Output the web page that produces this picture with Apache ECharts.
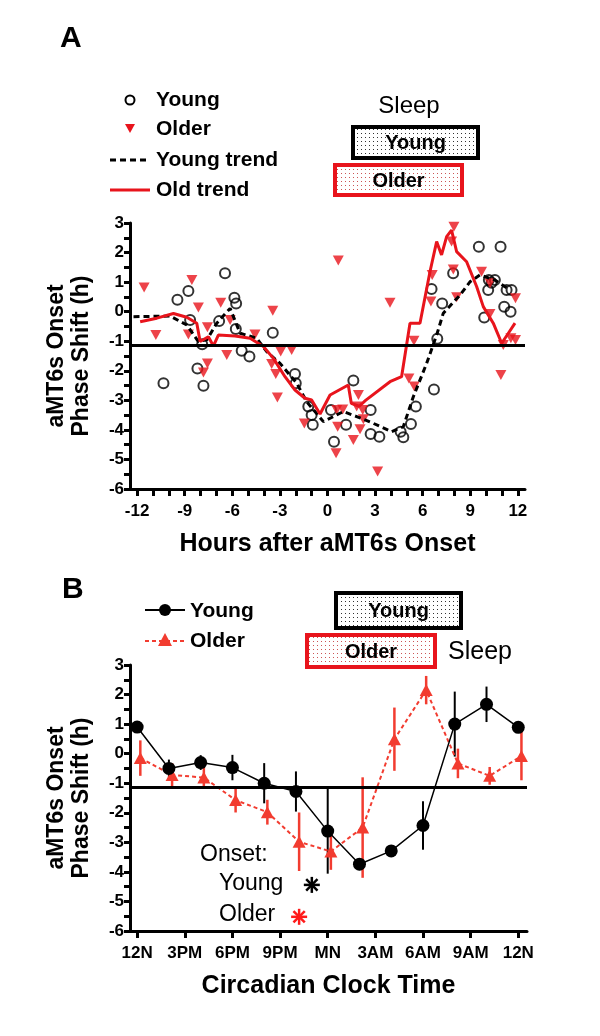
<!DOCTYPE html>
<html>
<head>
<meta charset="utf-8">
<script src="https://cdn.jsdelivr.net/npm/echarts@6/dist/echarts.min.js"></script>
<style>
html,body{margin:0;padding:0;background:#fff;}
#c{width:600px;height:1036px;}
</style>
</head>
<body>
<div id="c"></div>
<script>
// ---------------- Panel A data ----------------
const youngX = [-10.34, -9.46, -8.77, -8.66, -8.20, -7.82, -7.9, -6.83, -6.46, -5.87, -5.76, -5.78, -5.41, -4.92, -3.45, -2.05, -2.0, -1.21, -1.0, -0.93, 0.22, 0.41, 1.17, 1.63, 2.72, 2.72, 3.27, 4.61, 4.78, 5.26, 5.57, 6.71, 6.92, 7.23, 6.56, 7.92, 9.54, 10.91, 10.17, 10.55, 10.13, 10.34, 11.29, 11.6, 11.14, 11.54, 9.88];
const youngY = [-2.42, 0.40, 0.70, -0.28, -1.92, -2.51, -1.1, -0.32, 1.30, 0.47, 0.28, -0.59, -1.32, -1.52, -0.71, -2.11, -2.42, -3.21, -3.50, -3.83, -3.33, -4.40, -3.83, -2.33, -3.33, -4.14, -4.23, -4.06, -4.25, -3.80, -3.21, -2.63, -0.92, 0.28, 0.77, 1.30, 2.20, 2.20, 1.07, 1.07, 0.73, 0.98, 0.73, 0.73, 0.17, 0.0, -0.20];

const olderX = [-11.56, -10.82, -8.55, -8.14, -8.77, -7.57, -7.57, -7.82, -6.73, -6.14, -6.35, -4.57, -3.45, -2.95, -2.26, -3.52, -3.26, -3.16, -1.46, 0.68, 3.94, 0.58, 0.96, 0.64, 0.54, 1.63, 1.95, 1.84, 2.22, 2.26, 2.05, 3.16, 5.13, 5.47, 5.45, 6.60, 6.52, 7.93, 7.97, 7.82, 7.93, 8.14, 9.71, 10.24, 10.24, 11.08, 11.56, 11.85, 11.85, 10.93];
const olderY = [0.82, -0.79, 1.07, 0.14, -0.77, -0.53, -1.75, -2.06, 0.30, -0.28, -1.47, -0.77, 0.03, -1.35, -1.30, -1.77, -2.11, -2.90, -3.78, 1.73, 0.30, -3.33, -3.31, -3.89, -4.79, -4.34, -2.82, -3.21, -3.33, -3.64, -3.98, -5.41, -2.26, -2.53, -0.98, 1.24, 0.34, 3.04, 2.87, 2.37, 1.43, 0.49, 1.35, 0.96, -0.08, -1.13, -0.90, -0.96, 0.45, -2.14];

const youngTrendX = [-12.23, -9.92, -8.87, -8.14, -7.6, -6.98, -6.14, -5.51, -4.46, -3.83, -2.99, -1.94, -1.31, -0.26, 1.0, 1.84, 2.89, 4.04, 4.78, 5.41, 6.25, 6.88, 7.30, 8.35, 8.98, 9.61, 10.55, 11.5];
const youngTrendY = [-0.17, -0.15, -0.45, -1.01, -0.95, -0.39, 0.11, -0.73, -0.90, -1.35, -1.75, -2.42, -3.05, -3.72, -3.38, -3.55, -3.78, -4.06, -3.89, -2.88, -1.75, -0.79, -0.05, 0.56, 1.01, 1.24, 1.07, 0.73];

const oldTrendX = [-11.81, -10.76, -9.71, -8.87, -8.24, -8.03, -7.51, -7.19, -6.88, -5.83, -4.88, -4.04, -3.41, -2.68, -2.05, -1.42, -1.0, -0.47, 0.16, 1.31, 1.5, 2.0, 2.4, 3.94, 4.67, 5.2, 5.83, 6.46, 6.88, 7.19, 7.51, 7.82, 8.14, 8.77, 9.40, 9.82, 10.45, 10.98, 11.40, 11.82];
const oldTrendY = [-0.34, -0.22, -0.06, -0.19, -0.39, -1.01, -0.85, -1.16, -0.79, -0.82, -0.90, -1.18, -1.58, -2.2, -2.65, -2.93, -2.99, -3.46, -2.82, -2.48, -3.1, -3.2, -3.0, -2.37, -2.2, -0.39, -0.39, 1.35, 2.37, 1.92, 2.54, 2.76, 2.03, 1.69, 0.85, 0.17, -0.39, -1.07, -0.73, -0.39];

const hourTicks = [-12,-11,-10,-9,-8,-7,-6,-5,-4,-3,-2,-1,0,1,2,3,4,5,6,7,8,9,10,11,12];
const hourLabels = [-12,-9,-6,-3,0,3,6,9,12];

// ---------------- Panel B data ----------------
const clockHours = [0, 2, 4, 6, 8, 10, 12, 14, 16, 18, 20, 22, 24];
const youngMean = [0.9, -0.5, -0.3, -0.47, -1.0, -1.28, -2.62, -3.74, -3.29, -2.43, 1.0, 1.67, 0.89];
const youngErr  = [0, 0.3, 0.25, 0.43, 0.68, 0.68, 1.44, 0.2, 0.2, 0.82, 1.1, 0.6, 0];
const olderHours = [0.2, 2.2, 4.2, 6.2, 8.2, 10.2, 12.2, 14.2, 16.2, 18.2, 20.2, 22.2, 24.2];
const olderMean = [-0.15, -0.72, -0.81, -1.57, -1.98, -2.98, -3.31, -2.50, 0.49, 2.15, -0.33, -0.75, -0.08];
const olderErr  = [0.6, 0.4, 0.37, 0.42, 0.42, 0.99, 0.62, 1.7, 1.07, 0.48, 0.5, 0.3, 0.82];
const clockTicks = [0, 3, 6, 9, 12, 15, 18, 21, 24];
const clockLabels = ['12N', '3PM', '6PM', '9PM', 'MN', '3AM', '6AM', '9AM', '12N'];
const youngOnset = [11.0, -4.44];
const olderOnset = [10.2, -5.52];

const refLine = -1.15;
const yTicksMin = -6, yTicksMax = 3;

// ---------------- styling ----------------
const FONT = '"Liberation Sans", Arial, Helvetica, sans-serif';
const RED_A = '#e8141c';
const RED_B = '#f23c30';

function zip(xs, ys) { return xs.map((x, i) => [x, ys[i]]); }
function errData(xs, m, e) { return xs.map((x, i) => [x, m[i] - e[i], m[i] + e[i]]); }

function dotPattern(color) {
  const c = document.createElement('canvas');
  c.width = 4; c.height = 4;
  const g = c.getContext('2d');
  g.fillStyle = '#fff'; g.fillRect(0, 0, 4, 4);
  g.fillStyle = color; g.fillRect(1, 1, 1, 1);
  return { image: c, repeat: 'repeat' };
}

function xAxisCfg(grid, min, max, ticks, labels, fmt, name) {
  return {
    type: 'value', gridIndex: grid, min: min, max: max,
    name: name, nameLocation: 'middle', nameGap: 43,
    nameTextStyle: { fontFamily: FONT, fontWeight: 'bold', fontSize: 25, color: '#000' },
    axisLine: { onZero: false, lineStyle: { color: '#000', width: 3 } },
    axisTick: { show: true, customValues: ticks, length: 7, lineStyle: { color: '#000', width: 3 } },
    axisLabel: { customValues: labels, formatter: fmt, margin: 14, fontFamily: FONT, fontWeight: 'bold', fontSize: 17, color: '#000' },
    splitLine: { show: false }
  };
}
function yAxisCfg(grid) {
  return {
    type: 'value', gridIndex: grid, min: yTicksMin, max: yTicksMax, interval: 1,
    name: 'aMT6s Onset\nPhase Shift (h)', nameLocation: 'middle', nameGap: 36, nameRotate: 90,
    nameTextStyle: { fontFamily: FONT, fontWeight: 'bold', fontSize: 23, lineHeight: 25, color: '#000' },
    axisLine: { onZero: false, lineStyle: { color: '#000', width: 3 } },
    axisTick: { show: true, length: 6, lineStyle: { color: '#000', width: 3 } },
    minorTick: { show: true, splitNumber: 2, length: 6, lineStyle: { color: '#000', width: 3 } },
    axisLabel: { margin: 6, fontFamily: FONT, fontWeight: 'bold', fontSize: 17, color: '#000' },
    splitLine: { show: false }, minorSplitLine: { show: false }
  };
}

function errSeries(xi, data, color, width) {
  return {
    type: 'custom', xAxisIndex: xi, yAxisIndex: xi, data: data, z: 2,
    renderItem: function (params, api) {
      const a = api.coord([api.value(0), api.value(1)]);
      const b = api.coord([api.value(0), api.value(2)]);
      return { type: 'line', shape: { x1: a[0], y1: a[1], x2: b[0], y2: b[1] }, style: { stroke: color, lineWidth: width } };
    }
  };
}
function starSeries(pt, color) {
  return {
    type: 'custom', xAxisIndex: 1, yAxisIndex: 1, data: [pt], z: 5,
    renderItem: function (params, api) {
      const c = api.coord([api.value(0), api.value(1)]);
      const r = 8, children = [];
      for (let k = 0; k < 4; k++) {
        const ang = k * Math.PI / 4;
        const dx = r * Math.cos(ang), dy = r * Math.sin(ang);
        children.push({ type: 'line', shape: { x1: c[0] - dx, y1: c[1] - dy, x2: c[0] + dx, y2: c[1] + dy }, style: { stroke: color, lineWidth: 2.5 } });
      }
      return { type: 'group', children: children };
    }
  };
}

function txt(text, x, y, size, weight, align, color) {
  return { type: 'text', x: x, y: y, style: { text: text, font: (weight || 'normal') + ' ' + size + 'px ' + FONT, fill: color || '#000', textAlign: align || 'left', textVerticalAlign: 'middle', verticalAlign: 'middle' } };
}
function box(x, y, w, h, stroke, dotColor, label) {
  return [
    { type: 'rect', shape: { x: x, y: y, width: w, height: h }, style: { fill: dotPattern(dotColor), stroke: stroke, lineWidth: 4 } },
    txt(label, x + w / 2, y + h / 2 + 1, 20, 'bold', 'center')
  ];
}

const graphics = [].concat(
  [
    txt('A', 60, 39, 30, 'bold', 'left'),
    // legend A
    { type: 'circle', shape: { cx: 130, cy: 100, r: 4.5 }, style: { fill: 'none', stroke: '#000', lineWidth: 2 } },
    txt('Young', 156, 100, 21, 'bold'),
    { type: 'polygon', shape: { points: [[125, 124], [135, 124], [130, 133]] }, style: { fill: RED_A } },
    txt('Older', 156, 129, 21, 'bold'),
    { type: 'line', shape: { x1: 110, y1: 160, x2: 150, y2: 160 }, style: { stroke: '#000', lineWidth: 3, lineDash: [6, 4] } },
    txt('Young trend', 156, 160, 21, 'bold'),
    { type: 'line', shape: { x1: 110, y1: 190, x2: 150, y2: 190 }, style: { stroke: RED_A, lineWidth: 3 } },
    txt('Old trend', 156, 190, 21, 'bold'),
    txt('Sleep', 409, 106, 24, 'normal', 'center')
  ],
  box(353, 127, 125, 31, '#000', '#333', 'Young'),
  box(335, 165, 127, 30, RED_A, '#c55', 'Older'),
  [
    txt('B', 62, 590, 30, 'bold', 'left'),
    { type: 'line', shape: { x1: 145, y1: 610, x2: 185, y2: 610 }, style: { stroke: '#000', lineWidth: 2 } },
    { type: 'circle', shape: { cx: 165, cy: 610, r: 6 }, style: { fill: '#000' } },
    txt('Young', 190, 611, 21, 'bold'),
    { type: 'line', shape: { x1: 145, y1: 641, x2: 185, y2: 641 }, style: { stroke: RED_B, lineWidth: 2, lineDash: [4, 3] } },
    { type: 'polygon', shape: { points: [[158, 646], [172, 646], [165, 633]] }, style: { fill: RED_B } },
    txt('Older', 190, 641, 21, 'bold')
  ],
  box(336, 593, 125, 35, '#000', '#333', 'Young'),
  box(307, 635, 128, 32, RED_A, '#c55', 'Older'),
  [
    txt('Sleep', 448, 652, 25, 'normal', 'left'),
    txt('Onset:', 200, 855, 23, 'normal', 'left'),
    txt('Young', 219, 884, 23, 'normal', 'left'),
    txt('Older', 219, 915, 23, 'normal', 'left')
  ]
);

const chart = echarts.init(document.getElementById('c'), null, { renderer: 'canvas' });
chart.setOption({
  animation: false,
  backgroundColor: '#fff',
  grid: [
    { left: 130, top: 223, width: 395, height: 266 },
    { left: 130, top: 665, width: 397, height: 266 }
  ],
  xAxis: [
    xAxisCfg(0, -12.45, 12.45, hourTicks, hourLabels, v => String(v), 'Hours after aMT6s Onset'),
    xAxisCfg(1, -0.45, 24.55, clockTicks, clockTicks, v => clockLabels[clockTicks.indexOf(v)] || '', 'Circadian Clock Time')
  ],
  yAxis: [yAxisCfg(0), yAxisCfg(1)],
  series: [
    {
      type: 'scatter', xAxisIndex: 0, yAxisIndex: 0, data: zip(youngX, youngY), z: 3,
      symbol: 'circle', symbolSize: 10,
      itemStyle: { color: 'rgba(0,0,0,0)', borderColor: '#000', borderWidth: 2 },
      markLine: { silent: true, symbol: 'none', label: { show: false }, lineStyle: { color: '#000', width: 3, type: 'solid' }, data: [{ yAxis: refLine }] }
    },
    {
      type: 'scatter', xAxisIndex: 0, yAxisIndex: 0, data: zip(olderX, olderY), z: 3,
      symbol: 'triangle', symbolRotate: 180, symbolSize: [11, 10],
      itemStyle: { color: RED_A }
    },
    {
      type: 'line', xAxisIndex: 0, yAxisIndex: 0, data: zip(youngTrendX, youngTrendY), z: 4,
      showSymbol: false, symbol: 'none', lineStyle: { color: '#000', width: 3, type: [6, 4] }
    },
    {
      type: 'line', xAxisIndex: 0, yAxisIndex: 0, data: zip(oldTrendX, oldTrendY), z: 4,
      showSymbol: false, symbol: 'none', lineStyle: { color: RED_A, width: 3 }
    },
    errSeries(1, errData(clockHours, youngMean, youngErr), '#000', 2),
    errSeries(1, errData(olderHours, olderMean, olderErr), RED_B, 2.5),
    {
      type: 'line', xAxisIndex: 1, yAxisIndex: 1, data: zip(clockHours, youngMean), z: 4,
      symbol: 'circle', symbolSize: 13, itemStyle: { color: '#000' }, lineStyle: { color: '#000', width: 1.5 },
      markLine: { silent: true, symbol: 'none', label: { show: false }, lineStyle: { color: '#000', width: 3, type: 'solid' }, data: [{ yAxis: refLine }] }
    },
    {
      type: 'line', xAxisIndex: 1, yAxisIndex: 1, data: zip(olderHours, olderMean), z: 3,
      symbol: 'triangle', symbolSize: [13, 12], itemStyle: { color: RED_B }, lineStyle: { color: RED_B, width: 2, type: [4, 3] }
    },
    starSeries(youngOnset, '#000'),
    starSeries(olderOnset, '#ff1a1a')
  ],
  graphic: graphics
});
</script>
</body>
</html>
